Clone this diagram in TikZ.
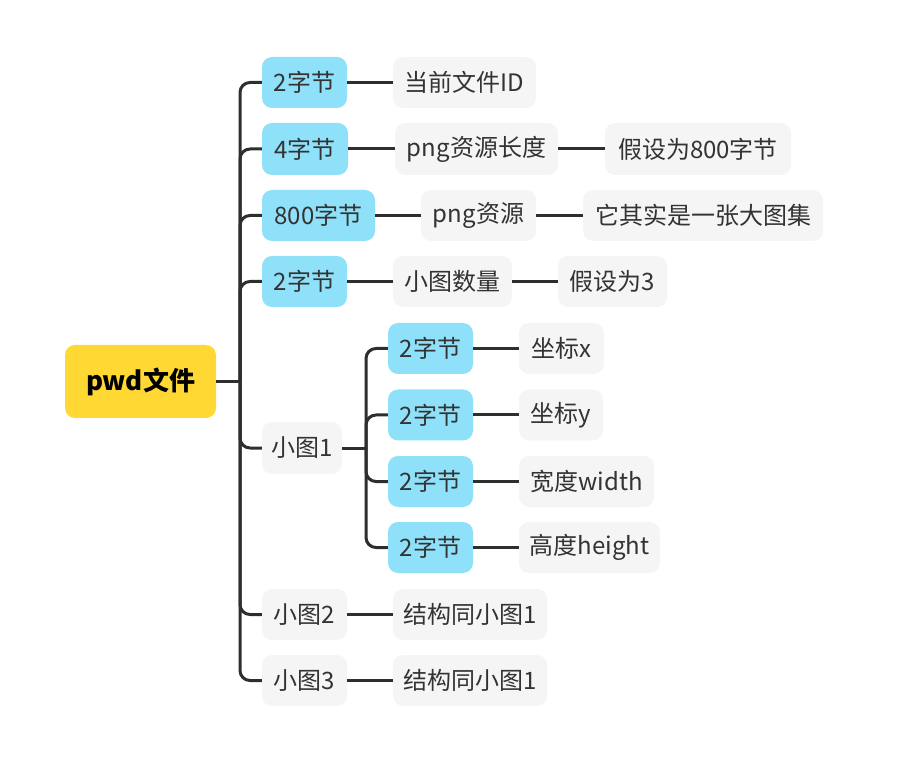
\documentclass[tikz,border=0pt]{standalone}
\usepackage{fontspec}
\setmainfont{Noto Sans CJK SC}
\definecolor{lnc}{HTML}{2E2E2E}
\definecolor{txc}{HTML}{333333}
\definecolor{bluec}{HTML}{8FE0F9}
\definecolor{grayc}{HTML}{F5F5F5}
\definecolor{yelc}{HTML}{FFD833}
\tikzset{
  box/.style={rounded corners=10pt, inner sep=0pt, text=txc, font=\fontsize{24}{28}\selectfont, minimum height=51pt},
  bluebox/.style={box, fill=bluec},
  graybox/.style={box, fill=grayc},
  rootbox/.style={box, fill=yelc, text=black, font=\fontsize{26}{30}\selectfont\bfseries, minimum height=73pt, minimum width=151pt},
  conn/.style={draw=lnc, line width=3pt},
  branch/.style={conn, rounded corners=10pt}
}
\begin{document}
\begin{tikzpicture}[x=1pt,y=-1pt]
\useasboundingbox (0,0) rectangle (911,759);
\node[rootbox] (root) at (140.5,381.5) {pwd文件};
% level 1
\node[bluebox, minimum width=85pt] (n1) at (304.5,82.5) {2字节};
\node[bluebox, minimum width=86pt, minimum height=52pt] (n2) at (305,149) {4字节};
\node[bluebox, minimum width=113pt] (n3) at (318.5,215.5) {800字节};
\node[bluebox, minimum width=85pt] (n4) at (304.5,281.5) {2字节};
\node[graybox, minimum width=80pt, minimum height=52pt] (n5) at (302,448) {小图1};
\node[graybox, minimum width=85pt] (n6) at (304.5,614.5) {小图2};
\node[graybox, minimum width=85pt] (n7) at (304.5,680.5) {小图3};
% level 2
\node[graybox, minimum width=143pt] (m1) at (464.5,82.5) {当前文件ID};
\node[graybox, minimum width=163pt, minimum height=52pt] (m2) at (476.5,149) {png资源长度};
\node[graybox, minimum width=186pt, minimum height=52pt] (m2b) at (698,149) {假设为800字节};
\node[graybox, minimum width=115pt] (m3) at (478.5,215.5) {png资源};
\node[graybox, minimum width=240pt] (m3b) at (703,215.5) {它其实是一张大图集};
\node[graybox, minimum width=119pt] (m4) at (452.5,281.5) {小图数量};
\node[graybox, minimum width=109pt] (m4b) at (612.5,281.5) {假设为3};
\node[bluebox, minimum width=85pt] (s1) at (430.5,348.5) {2字节};
\node[bluebox, minimum width=85pt] (s2) at (430.5,415) {2字节};
\node[bluebox, minimum width=85pt] (s3) at (430.5,481.5) {2字节};
\node[bluebox, minimum width=85pt] (s4) at (430.5,547.5) {2字节};
\node[graybox, minimum width=85pt] (t1) at (561.5,348.5) {坐标x};
\node[graybox, minimum width=84pt] (t2) at (561,415) {坐标y};
\node[graybox, minimum width=135pt] (t3) at (586.5,481.5) {宽度width};
\node[graybox, minimum width=141pt] (t4) at (589.5,547.5) {高度height};
\node[graybox, minimum width=154pt] (m6) at (470,614.5) {结构同小图1};
\node[graybox, minimum width=154pt] (m7) at (470,680.5) {结构同小图1};
% connectors from root
\coordinate (j0) at (240,381.5);
\draw[conn] (root.east) -- (j0);
\foreach \c in {n1,n2,n3,n4,n5,n6,n7}{
  \draw[branch] (j0) |- (\c.west);
}
% sub trunk
\coordinate (j5) at (366,448);
\draw[conn] (n5.east) -- (j5);
\foreach \c in {s1,s2,s3,s4}{
  \draw[branch] (j5) |- (\c.west);
}
% straight connectors
\draw[conn] (n1.east) -- (m1.west);
\draw[conn] (n2.east) -- (m2.west);
\draw[conn] (m2.east) -- (m2b.west);
\draw[conn] (n3.east) -- (m3.west);
\draw[conn] (m3.east) -- (m3b.west);
\draw[conn] (n4.east) -- (m4.west);
\draw[conn] (m4.east) -- (m4b.west);
\draw[conn] (s1.east) -- (t1.west);
\draw[conn] (s2.east) -- (t2.west);
\draw[conn] (s3.east) -- (t3.west);
\draw[conn] (s4.east) -- (t4.west);
\draw[conn] (n6.east) -- (m6.west);
\draw[conn] (n7.east) -- (m7.west);
\end{tikzpicture}
\end{document}
